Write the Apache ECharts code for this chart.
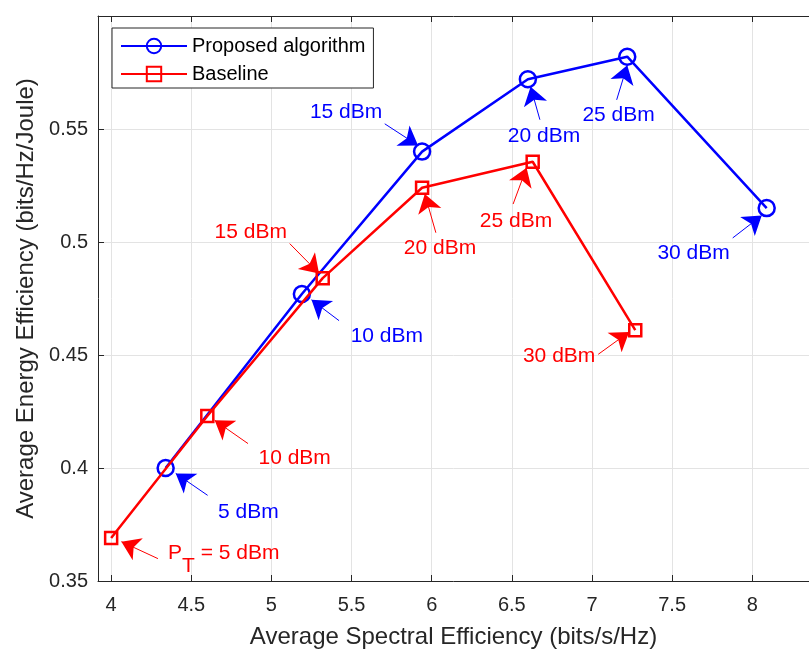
<!DOCTYPE html>
<html><head><meta charset="utf-8">
<script src="https://cdn.jsdelivr.net/npm/echarts@6/dist/echarts.min.js"></script>
<style>html,body{margin:0;padding:0;background:#fff}#c{width:809px;height:654px}</style>
</head><body><div id="c"></div>
<script>
const FONT = "'Liberation Sans', Arial, Helvetica, sans-serif";
const BLUE = '#0000ff', RED = '#ff0000', AX = '#262626';

const seriesNames = ['Proposed algorithm', 'Baseline'];
const powerLabels = ['5 dBm', '10 dBm', '15 dBm', '20 dBm', '25 dBm', '30 dBm'];
// Proposed algorithm: spectral efficiency / energy efficiency
const proposedSE = [4.34, 5.19, 5.94, 6.60, 7.22, 8.09];
const proposedEE = [0.400, 0.477, 0.540, 0.572, 0.582, 0.515];
// Baseline
const baselineSE = [4.00, 4.60, 5.32, 5.94, 6.63, 7.27];
const baselineEE = [0.369, 0.423, 0.484, 0.524, 0.5355, 0.461];

const xTicks = [4, 4.5, 5, 5.5, 6, 6.5, 7, 7.5, 8];
const yTicks = [0.35, 0.4, 0.45, 0.5, 0.55];

// annotation anchors (data coordinates)
const propTextPos = [[4.856, 0.3804], [5.720, 0.4583], [5.466, 0.5573], [6.701, 0.5468], [7.166, 0.5563], [7.634, 0.4949]];
const propArrowTail = [[4.602, 0.3879], [5.422, 0.4652], [5.707, 0.5523], [6.675, 0.5541], [7.154, 0.5629], [7.878, 0.5018]];
const propArrowTip = [[4.403, 0.3976], [5.250, 0.4744], [5.915, 0.5427], [6.617, 0.5687], [7.220, 0.5782], [8.059, 0.5117]];
const baseTextPos = [[4.355, 0.3670], [5.145, 0.4042], [4.871, 0.5044], [6.052, 0.4971], [6.526, 0.5092], [6.795, 0.4496]];
const baseArrowTail = [[4.292, 0.3599], [4.854, 0.4108], [5.114, 0.4993], [6.026, 0.5041], [6.508, 0.5168], [7.039, 0.4503]];
const baseArrowTip = [[4.064, 0.3674], [4.646, 0.4211], [5.297, 0.4861], [5.957, 0.5212], [6.592, 0.5329], [7.232, 0.4602]];

function pairs(xs, ys) { return xs.map((x, i) => [x, ys[i]]); }
function fmt(v) { return String(Math.round(v * 100) / 100); }

function textSeries(pos, color, first) {
  return {
    type: 'scatter', silent: true, symbolSize: 0, z: 5,
    itemStyle: { color: color, opacity: 1 },
    data: pos.map((p, i) => {
      const item = { value: p, name: powerLabels[i] };
      if (i === 0 && first) {
        item.label = {
          align: 'left', verticalAlign: 'top',
          formatter: '{a|P}{t|T}{a| = 5 dBm}',
          rich: {
            a: { fontSize: 21, color: color, fontFamily: FONT, lineHeight: 22, verticalAlign: 'top' },
            t: { fontSize: 21, color: color, fontFamily: FONT, lineHeight: 34, verticalAlign: 'bottom' }
          }
        };
      }
      return item;
    }),
    label: {
      show: true, position: [0, 0], align: 'center', verticalAlign: 'middle',
      formatter: '{b}', color: color, fontSize: 21, fontFamily: FONT, opacity: 1
    }
  };
}
function arrowSeries(tails, tips, color) {
  return {
    type: 'lines', coordinateSystem: 'cartesian2d', silent: true, z: 6,
    symbol: ['none', 'arrow'], symbolSize: 18,
    lineStyle: { color: color, width: 1, opacity: 1 },
    data: tails.map((t, i) => ({ coords: [t, tips[i]] }))
  };
}

const chart = echarts.init(document.getElementById('c'), null, { renderer: 'canvas' });
chart.setOption({
  animation: false,
  backgroundColor: '#fff',
  grid: { left: 98, right: 0, top: 16, bottom: 69, containLabel: false },
  legend: {
    data: seriesNames, orient: 'vertical', left: 112, top: 28,
    itemWidth: 66, itemHeight: 18, itemGap: 8,
    padding: [8, 8, 4, 8],
    borderColor: AX, borderWidth: 1, backgroundColor: '#fff',
    textStyle: { fontSize: 20, color: '#000', fontFamily: FONT }
  },
  xAxis: [{
    type: 'value', min: 3.918, max: 8.354, position: 'bottom',
    name: 'Average Spectral Efficiency (bits/s/Hz)', nameLocation: 'middle', nameGap: 44,
    nameTextStyle: { fontSize: 24, color: AX, fontFamily: FONT },
    axisLine: { show: true, lineStyle: { color: AX, width: 1 } },
    axisTick: { show: true, inside: true, length: 6, customValues: xTicks, lineStyle: { color: AX } },
    axisLabel: { customValues: xTicks, formatter: fmt, fontSize: 20, color: AX, fontFamily: FONT, margin: 14 },
    splitLine: { show: true, lineStyle: { color: '#e3e3e3', width: 1 } }
  }, {
    type: 'value', min: 3.918, max: 8.354, position: 'top',
    axisLine: { show: true, onZero: false, lineStyle: { color: AX, width: 1 } },
    axisTick: { show: true, inside: true, length: 6, customValues: xTicks, lineStyle: { color: AX } },
    axisLabel: { show: false },
    splitLine: { show: false }
  }],
  yAxis: [{
    type: 'value', min: 0.35, max: 0.6,
    name: 'Average Energy Efficiency (bits/Hz/Joule)', nameLocation: 'middle', nameGap: 58,
    nameTextStyle: { fontSize: 24, color: AX, fontFamily: FONT },
    axisLine: { show: true, onZero: false, lineStyle: { color: AX, width: 1 } },
    axisTick: { show: true, inside: true, length: 6, customValues: yTicks, lineStyle: { color: AX } },
    axisLabel: { customValues: yTicks, formatter: fmt, fontSize: 20, color: AX, fontFamily: FONT, margin: 10 },
    splitLine: { show: true, lineStyle: { color: '#e3e3e3', width: 1 } }
  }],
  series: [{
    name: seriesNames[0], type: 'line', data: pairs(proposedSE, proposedEE),
    symbol: 'circle', symbolSize: 16, z: 3,
    lineStyle: { color: BLUE, width: 2.5 },
    itemStyle: { color: 'rgba(255,255,255,0)', borderColor: BLUE, borderWidth: 2.5 }
  }, {
    name: seriesNames[1], type: 'line', data: pairs(baselineSE, baselineEE),
    symbol: 'rect', symbolSize: 12, z: 4,
    lineStyle: { color: RED, width: 2.5 },
    itemStyle: { color: 'rgba(255,255,255,0)', borderColor: RED, borderWidth: 2.5 }
  },
    textSeries(propTextPos, BLUE, false),
    textSeries(baseTextPos, RED, true),
    arrowSeries(propArrowTail, propArrowTip, BLUE),
    arrowSeries(baseArrowTail, baseArrowTip, RED)
  ]
});
</script></body></html>
